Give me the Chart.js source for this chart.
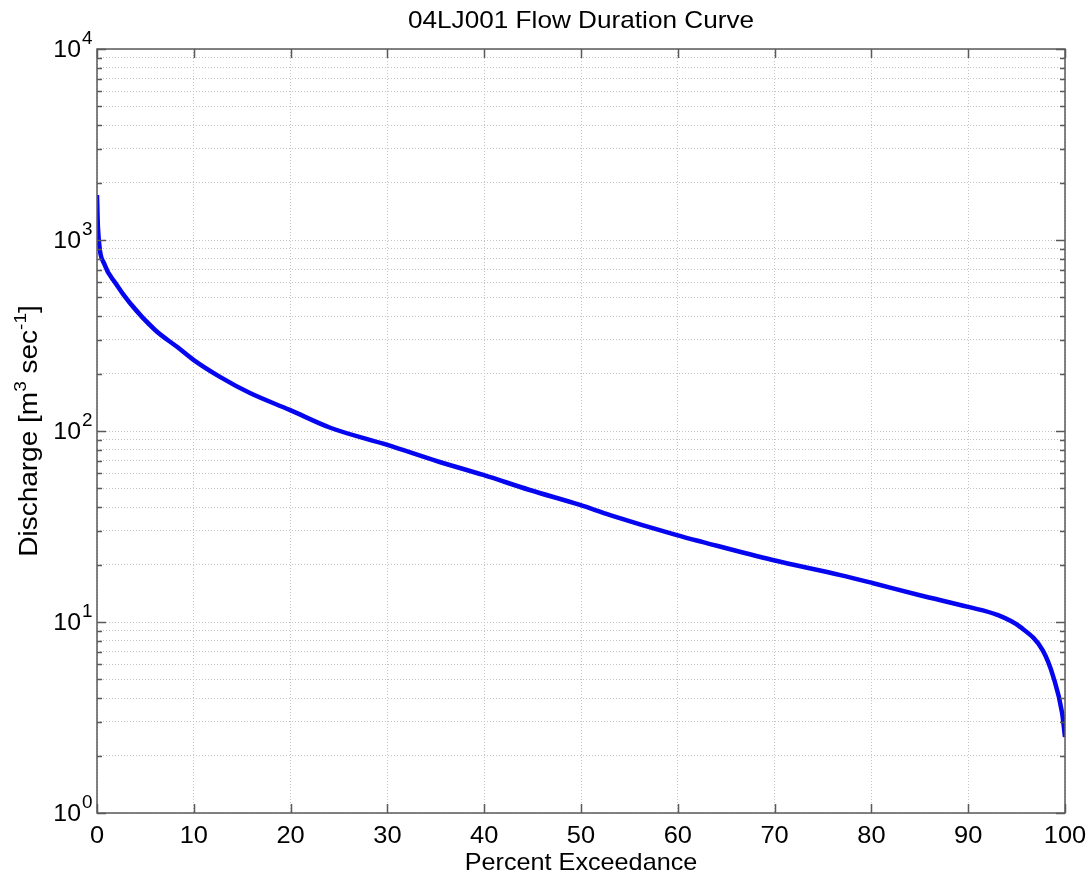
<!DOCTYPE html>
<html><head><meta charset="utf-8">
<script src="https://cdn.jsdelivr.net/npm/chart.js@4/dist/chart.umd.min.js"></script>
<style>html,body{margin:0;padding:0;background:#fff;}canvas{display:block;}</style>
</head><body>
<canvas id="c" width="1092" height="882"></canvas>
<script>
// ---- data ----
const percentExceedance = [0, 0.1, 0.8, 1.9, 3.4, 6.0, 8.3, 10, 12.7, 15.8, 19.9, 24.1, 30, 35.4, 39.9, 44.7, 49.9, 53, 59.9, 62.6, 69.8, 76.8, 80.1, 85, 90, 93, 95.4, 97.7, 98.8, 99.7, 100];
const discharge = [1720, 1155, 740, 596, 468, 338, 275, 235, 192, 158, 129, 104, 84.5, 68.8, 58.9, 49.1, 41, 36.3, 28.5, 26.2, 21.1, 17.6, 16.0, 13.8, 12.0, 10.9, 9.4, 7.1, 5.15, 3.34, 2.5];
const xTickValues = [0, 10, 20, 30, 40, 50, 60, 70, 80, 90, 100];
const yDecadeExponents = [0, 1, 2, 3, 4];
const yMantissas = [1, 2, 3, 4, 5, 6, 7, 8, 9];
const titleText = '04LJ001 Flow Duration Curve';
const xTitleText = 'Percent Exceedance';

const yTickValues = [];
yDecadeExponents.forEach((e, i) => {
  yMantissas.forEach(m => {
    if (i < yDecadeExponents.length - 1 || m === 1) yTickValues.push(m * Math.pow(10, e));
  });
});

const FONT = '"Liberation Sans", Arial, Helvetica, sans-serif';
function txt(ctx, s, x, y, size, align, sx) {
  ctx.save();
  ctx.font = size + 'px ' + FONT;
  ctx.textBaseline = 'alphabetic';
  ctx.translate(x, y);
  ctx.scale(sx, 1);
  const w = ctx.measureText(s).width;
  let ox = 0;
  if (align === 'center') ox = -w / 2; else if (align === 'right') ox = -w;
  ctx.fillText(s, ox, 0);
  ctx.restore();
  return w * sx;
}

const decor = {
  id: 'decor',
  afterDraw(chart) {
    const ctx = chart.ctx;
    const a = chart.chartArea;
    const xs = chart.scales.x, ys = chart.scales.y;
    ctx.save();
    ctx.fillStyle = '#000';
    // frame
    ctx.strokeStyle = '#5a5a5a';
    ctx.lineWidth = 1.5;
    ctx.strokeRect(a.left, a.top, a.right - a.left, a.bottom - a.top);
    // inward ticks
    ctx.beginPath();
    xTickValues.forEach(v => {
      const px = Math.round(xs.getPixelForValue(v)) + 0.5;
      ctx.moveTo(px, a.bottom); ctx.lineTo(px, a.bottom - 9);
      ctx.moveTo(px, a.top); ctx.lineTo(px, a.top + 9);
    });
    yTickValues.forEach(v => {
      const major = Math.abs(Math.log10(v) - Math.round(Math.log10(v))) < 1e-9;
      const len = major ? 9 : 5;
      const py = Math.round(ys.getPixelForValue(v)) + 0.5;
      ctx.moveTo(a.left, py); ctx.lineTo(a.left + len, py);
      ctx.moveTo(a.right, py); ctx.lineTo(a.right - len, py);
    });
    ctx.stroke();
    // x tick labels
    xTickValues.forEach(v => {
      txt(ctx, String(v), xs.getPixelForValue(v), a.bottom + 30, 24, 'center', 1.06);
    });
    // y tick labels 10^n
    yDecadeExponents.forEach(e => {
      const py = ys.getPixelForValue(Math.pow(10, e));
      txt(ctx, '10', a.left - 16, py + 8, 23, 'right', 1.08);
      txt(ctx, String(e), a.left - 15, py - 5, 18, 'left', 1.05);
    });
    // title
    txt(ctx, titleText, (a.left + a.right) / 2, 28, 24, 'center', 1.09);
    // x title
    txt(ctx, xTitleText, (a.left + a.right) / 2, 870, 24, 'center', 1.05);
    // y title (rotated) with superscripts
    ctx.save();
    ctx.translate(37, 431);
    ctx.rotate(-Math.PI / 2);
    const parts = [
      ['Discharge [m', 25, 0],
      ['3', 17, -11],
      [' sec', 25, 0],
      ['-1', 17, -11],
      [']', 25, 0]
    ];
    const sx = 1.12;
    let total = 0;
    parts.forEach(p => { ctx.font = p[1] + 'px ' + FONT; total += ctx.measureText(p[0]).width * sx; });
    let cx = -total / 2;
    parts.forEach(p => { cx += txt(ctx, p[0], cx, p[2], p[1], 'left', sx); });
    ctx.restore();
    ctx.restore();
  }
};

new Chart(document.getElementById('c'), {
  type: 'line',
  data: {
    datasets: [{
      data: percentExceedance.map((p, i) => ({ x: p, y: discharge[i] })),
      borderColor: '#0505f0',
      borderWidth: 4.5,
      pointRadius: 0,
      cubicInterpolationMode: 'monotone',
      fill: false
    }]
  },
  options: {
    responsive: false,
    animation: false,
    devicePixelRatio: 1,
    layout: { padding: { left: 97, right: 27, top: 49, bottom: 69 } },
    plugins: { legend: { display: false }, title: { display: false }, tooltip: { enabled: false } },
    scales: {
      x: {
        type: 'linear', min: 0, max: 100,
        afterBuildTicks: s => { s.ticks = xTickValues.map(v => ({ value: v })); },
        ticks: { display: false },
        grid: { color: '#c4c4c4', lineWidth: 1, drawTicks: false },
        border: { display: false, dash: [1, 2] }
      },
      y: {
        type: 'logarithmic', min: 1, max: 10000,
        afterBuildTicks: s => { s.ticks = yTickValues.map(v => ({ value: v })); },
        ticks: { display: false },
        grid: { color: '#c4c4c4', lineWidth: 1, drawTicks: false },
        border: { display: false, dash: [1, 2] }
      }
    }
  },
  plugins: [decor]
});
</script>
</body></html>
